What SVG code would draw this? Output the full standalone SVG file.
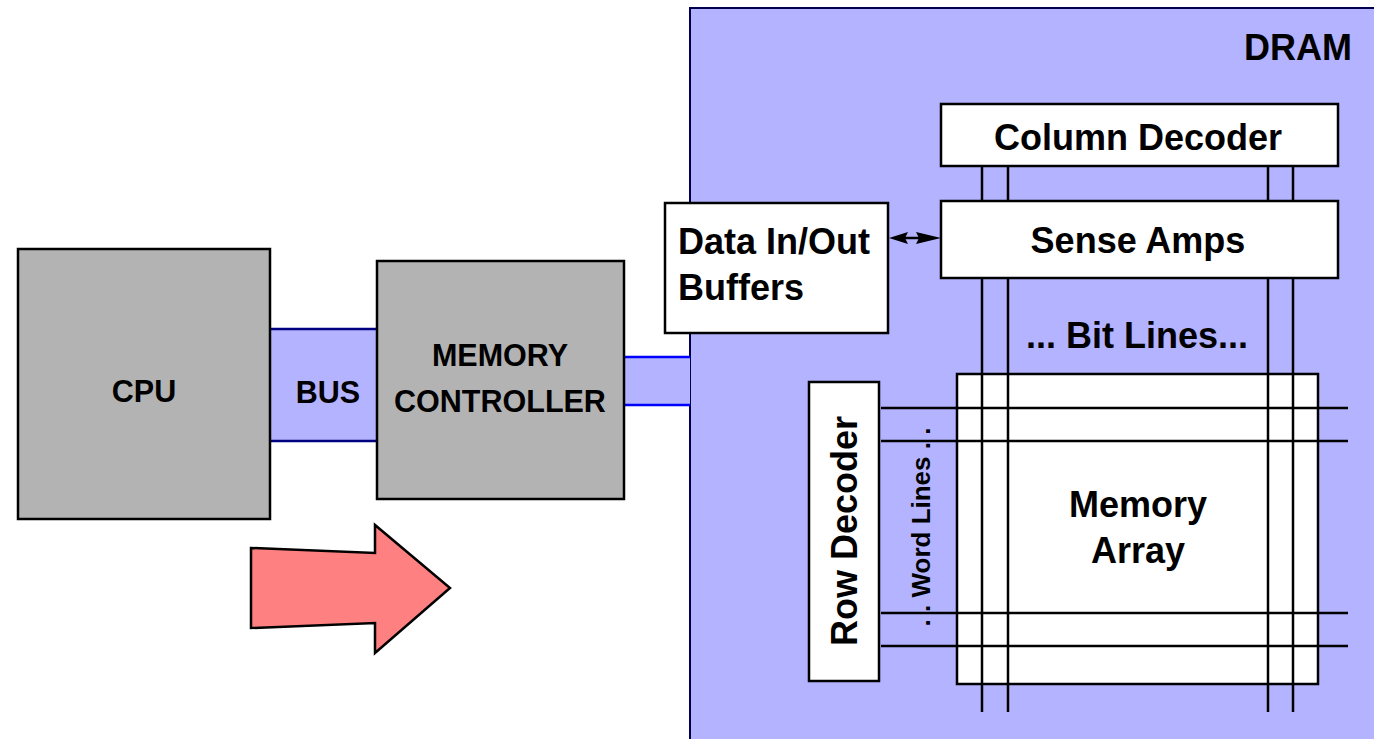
<svg xmlns="http://www.w3.org/2000/svg" width="1374" height="739" viewBox="0 0 1374 739">
<style>
.t{font-family:"Liberation Sans",Arial,sans-serif;font-weight:bold;fill:#000}
.big{font-size:36px}
.mid{font-size:30.5px}
.box{fill:#fff;stroke:#000;stroke-width:2.5}
.grey{fill:#b3b3b3;stroke:#000;stroke-width:2.5}
.ln{stroke:#000;stroke-width:2.5;fill:none}
.head{fill:#000}
</style>
<g id="dram">
<rect x="690" y="8" width="700" height="750" fill="#b3b3ff" stroke="#00004d" stroke-width="2"/>
<text class="t big" x="1352" y="60" text-anchor="end">DRAM</text>
</g>
<g id="bus">
<rect x="270" y="329" width="107" height="112" fill="#b3b3ff"/>
<line x1="270" y1="329" x2="377" y2="329" stroke="#000080" stroke-width="2.5"/>
<line x1="270" y1="441" x2="377" y2="441" stroke="#000080" stroke-width="2.5"/>
<text class="t mid" x="328" y="403" text-anchor="middle">BUS</text>
</g>
<g id="connectors">
<rect x="624" y="357" width="66" height="48" fill="#b3b3ff"/>
<line x1="624" y1="357" x2="690" y2="357" stroke="#0000ff" stroke-width="2.5"/>
<line x1="624" y1="405" x2="690" y2="405" stroke="#0000ff" stroke-width="2.5"/>
<line x1="900" y1="238" x2="925" y2="238" stroke="#000" stroke-width="2.5"/>
<path class="head" d="M889,238 L908,232 L905,238 L908,244 Z"/>
<path class="head" d="M941,238 L916,232 L919,238 L916,244 Z"/>
<path class="ln" d="M982,166V201M1008,166V201M1268,166V201M1293,166V201"/>
</g>
<g id="cpu">
<rect class="grey" x="18" y="249" width="252" height="270"/>
<text class="t mid" x="144" y="402" text-anchor="middle">CPU</text>
</g>
<g id="memory-controller">
<rect class="grey" x="377" y="261" width="247" height="238"/>
<text class="t mid" x="500" y="366" text-anchor="middle">MEMORY</text>
<text class="t mid" x="500" y="412" text-anchor="middle">CONTROLLER</text>
</g>
<g id="arrow">
<path d="M251,548 L375,553 L375,525 L450,588 L375,653 L375,623 L251,628 Z" fill="#ff8080" stroke="#000" stroke-width="2.5"/>
</g>
<g id="data-buffers">
<rect class="box" x="665" y="203" width="223" height="130"/>
<text class="t big" x="678" y="254">Data In/Out</text>
<text class="t big" x="678" y="300">Buffers</text>
</g>
<g id="column-decoder">
<rect class="box" x="941" y="104" width="397" height="62"/>
<text class="t big" x="1138" y="150" text-anchor="middle">Column Decoder</text>
</g>
<g id="sense-amps">
<rect class="box" x="941" y="201" width="397" height="77"/>
<text class="t big" x="1138" y="253" text-anchor="middle">Sense Amps</text>
</g>
<g id="bit-lines-label">
<text class="t big" x="1137" y="348" text-anchor="middle">... Bit Lines...</text>
</g>
<g id="memory-array">
<rect class="box" x="957" y="374" width="361" height="310"/>
<text class="t big" x="1138" y="517" text-anchor="middle">Memory</text>
<text class="t big" x="1138" y="563" text-anchor="middle">Array</text>
</g>
<g id="row-decoder">
<rect class="box" x="809" y="382" width="70" height="299"/>
<text class="t big" transform="translate(857,531) rotate(-90)" text-anchor="middle">Row Decoder</text>
</g>
<g id="word-lines-label">
<text class="t" font-size="26" transform="translate(930,527) rotate(-90)" text-anchor="middle">. . Word Lines . .</text>
</g>
<g id="lines">
<path class="ln" d="M982,278V712M1008,278V712M1268,278V712M1293,278V712"/>
<path class="ln" d="M881,408H1348M881,441H1348M881,613H1348M881,646H1348"/>
</g>
</svg>
